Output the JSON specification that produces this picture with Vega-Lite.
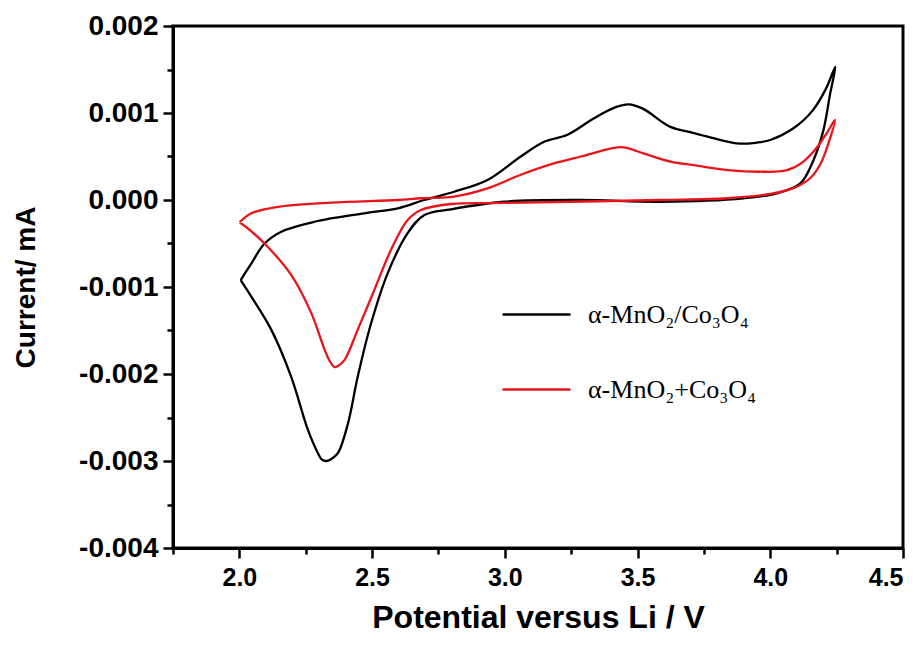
{
  "$schema": "https://vega.github.io/schema/vega-lite/v6.json",
  "width": 730,
  "height": 522,
  "autosize": {"type": "none"},
  "padding": {"left": 173, "top": 26, "right": 11, "bottom": 98},
  "background": "white",
  "config": {
    "view": {"stroke": "#000000", "strokeWidth": 3},
    "font": "Liberation Sans",
    "axis": {"grid": false, "domainColor": "#000000", "tickColor": "#000000", "labelColor": "#000000", "titleColor": "#000000", "domainWidth": 3, "tickWidth": 2.5, "labelFlush": false, "labelOverlap": false, "labelBound": false}
  },
  "data": {"values": [
    {"s": "α-MnO₂/Co₃O₄", "k": 1, "v": 2.005, "i": -0.00092},
    {"s": "α-MnO₂/Co₃O₄", "k": 2, "v": 2.045, "i": -0.00073},
    {"s": "α-MnO₂/Co₃O₄", "k": 3, "v": 2.095, "i": -0.0005},
    {"s": "α-MnO₂/Co₃O₄", "k": 4, "v": 2.158, "i": -0.000364},
    {"s": "α-MnO₂/Co₃O₄", "k": 5, "v": 2.283, "i": -0.00025},
    {"s": "α-MnO₂/Co₃O₄", "k": 6, "v": 2.471, "i": -0.000153},
    {"s": "α-MnO₂/Co₃O₄", "k": 7, "v": 2.597, "i": -0.000095},
    {"s": "α-MnO₂/Co₃O₄", "k": 8, "v": 2.697, "i": 0},
    {"s": "α-MnO₂/Co₃O₄", "k": 9, "v": 2.809, "i": 0.000095},
    {"s": "α-MnO₂/Co₃O₄", "k": 10, "v": 2.935, "i": 0.00023},
    {"s": "α-MnO₂/Co₃O₄", "k": 11, "v": 3.06, "i": 0.0005},
    {"s": "α-MnO₂/Co₃O₄", "k": 12, "v": 3.148, "i": 0.00067},
    {"s": "α-MnO₂/Co₃O₄", "k": 13, "v": 3.236, "i": 0.00075},
    {"s": "α-MnO₂/Co₃O₄", "k": 14, "v": 3.336, "i": 0.00094},
    {"s": "α-MnO₂/Co₃O₄", "k": 15, "v": 3.42, "i": 0.00107},
    {"s": "α-MnO₂/Co₃O₄", "k": 16, "v": 3.466, "i": 0.0011},
    {"s": "α-MnO₂/Co₃O₄", "k": 17, "v": 3.52, "i": 0.00105},
    {"s": "α-MnO₂/Co₃O₄", "k": 18, "v": 3.624, "i": 0.00084},
    {"s": "α-MnO₂/Co₃O₄", "k": 19, "v": 3.712, "i": 0.00077},
    {"s": "α-MnO₂/Co₃O₄", "k": 20, "v": 3.875, "i": 0.00065},
    {"s": "α-MnO₂/Co₃O₄", "k": 21, "v": 3.95, "i": 0.00066},
    {"s": "α-MnO₂/Co₃O₄", "k": 22, "v": 4.0, "i": 0.00069},
    {"s": "α-MnO₂/Co₃O₄", "k": 23, "v": 4.09, "i": 0.00083},
    {"s": "α-MnO₂/Co₃O₄", "k": 24, "v": 4.16, "i": 0.00103},
    {"s": "α-MnO₂/Co₃O₄", "k": 25, "v": 4.21, "i": 0.00128},
    {"s": "α-MnO₂/Co₃O₄", "k": 26, "v": 4.245, "i": 0.00153},
    {"s": "α-MnO₂/Co₃O₄", "k": 27, "v": 4.226, "i": 0.00123},
    {"s": "α-MnO₂/Co₃O₄", "k": 28, "v": 4.2, "i": 0.0008},
    {"s": "α-MnO₂/Co₃O₄", "k": 29, "v": 4.163, "i": 0.00046},
    {"s": "α-MnO₂/Co₃O₄", "k": 30, "v": 4.113, "i": 0.00019},
    {"s": "α-MnO₂/Co₃O₄", "k": 31, "v": 4.025, "i": 0.000077},
    {"s": "α-MnO₂/Co₃O₄", "k": 32, "v": 3.9, "i": 0.00002},
    {"s": "α-MnO₂/Co₃O₄", "k": 33, "v": 3.586, "i": -0.00002},
    {"s": "α-MnO₂/Co₃O₄", "k": 34, "v": 3.286, "i": 0},
    {"s": "α-MnO₂/Co₃O₄", "k": 35, "v": 2.996, "i": -0.00002},
    {"s": "α-MnO₂/Co₃O₄", "k": 36, "v": 2.797, "i": -0.000107},
    {"s": "α-MnO₂/Co₃O₄", "k": 37, "v": 2.697, "i": -0.000172},
    {"s": "α-MnO₂/Co₃O₄", "k": 38, "v": 2.634, "i": -0.00038},
    {"s": "α-MnO₂/Co₃O₄", "k": 39, "v": 2.559, "i": -0.00084},
    {"s": "α-MnO₂/Co₃O₄", "k": 40, "v": 2.496, "i": -0.00142},
    {"s": "α-MnO₂/Co₃O₄", "k": 41, "v": 2.446, "i": -0.00203},
    {"s": "α-MnO₂/Co₃O₄", "k": 42, "v": 2.409, "i": -0.00257},
    {"s": "α-MnO₂/Co₃O₄", "k": 43, "v": 2.371, "i": -0.00291},
    {"s": "α-MnO₂/Co₃O₄", "k": 44, "v": 2.345, "i": -0.00298},
    {"s": "α-MnO₂/Co₃O₄", "k": 45, "v": 2.327, "i": -0.003},
    {"s": "α-MnO₂/Co₃O₄", "k": 46, "v": 2.31, "i": -0.00298},
    {"s": "α-MnO₂/Co₃O₄", "k": 47, "v": 2.296, "i": -0.00291},
    {"s": "α-MnO₂/Co₃O₄", "k": 48, "v": 2.258, "i": -0.00264},
    {"s": "α-MnO₂/Co₃O₄", "k": 49, "v": 2.195, "i": -0.00203},
    {"s": "α-MnO₂/Co₃O₄", "k": 50, "v": 2.12, "i": -0.00149},
    {"s": "α-MnO₂/Co₃O₄", "k": 51, "v": 2.045, "i": -0.00111},
    {"s": "α-MnO₂/Co₃O₄", "k": 52, "v": 2.005, "i": -0.00092},
    {"s": "α-MnO₂+Co₃O₄", "k": 1, "v": 2.001, "i": -0.000256},
    {"s": "α-MnO₂+Co₃O₄", "k": 2, "v": 2.045, "i": -0.000153},
    {"s": "α-MnO₂+Co₃O₄", "k": 3, "v": 2.133, "i": -0.000084},
    {"s": "α-MnO₂+Co₃O₄", "k": 4, "v": 2.346, "i": -0.00003},
    {"s": "α-MnO₂+Co₃O₄", "k": 5, "v": 2.597, "i": 0},
    {"s": "α-MnO₂+Co₃O₄", "k": 6, "v": 2.684, "i": 0.00002},
    {"s": "α-MnO₂+Co₃O₄", "k": 7, "v": 2.809, "i": 0.00004},
    {"s": "α-MnO₂+Co₃O₄", "k": 8, "v": 2.935, "i": 0.000134},
    {"s": "α-MnO₂+Co₃O₄", "k": 9, "v": 3.06, "i": 0.00029},
    {"s": "α-MnO₂+Co₃O₄", "k": 10, "v": 3.185, "i": 0.00042},
    {"s": "α-MnO₂+Co₃O₄", "k": 11, "v": 3.286, "i": 0.0005},
    {"s": "α-MnO₂+Co₃O₄", "k": 12, "v": 3.424, "i": 0.000606},
    {"s": "α-MnO₂+Co₃O₄", "k": 13, "v": 3.46, "i": 0.0006},
    {"s": "α-MnO₂+Co₃O₄", "k": 14, "v": 3.499, "i": 0.00056},
    {"s": "α-MnO₂+Co₃O₄", "k": 15, "v": 3.624, "i": 0.00044},
    {"s": "α-MnO₂+Co₃O₄", "k": 16, "v": 3.712, "i": 0.0004},
    {"s": "α-MnO₂+Co₃O₄", "k": 17, "v": 3.85, "i": 0.00034},
    {"s": "α-MnO₂+Co₃O₄", "k": 18, "v": 3.962, "i": 0.000325},
    {"s": "α-MnO₂+Co₃O₄", "k": 19, "v": 4.06, "i": 0.00034},
    {"s": "α-MnO₂+Co₃O₄", "k": 20, "v": 4.12, "i": 0.00043},
    {"s": "α-MnO₂+Co₃O₄", "k": 21, "v": 4.175, "i": 0.0006},
    {"s": "α-MnO₂+Co₃O₄", "k": 22, "v": 4.213, "i": 0.00077},
    {"s": "α-MnO₂+Co₃O₄", "k": 23, "v": 4.244, "i": 0.00092},
    {"s": "α-MnO₂+Co₃O₄", "k": 24, "v": 4.22, "i": 0.00066},
    {"s": "α-MnO₂+Co₃O₄", "k": 25, "v": 4.19, "i": 0.00042},
    {"s": "α-MnO₂+Co₃O₄", "k": 26, "v": 4.15, "i": 0.00025},
    {"s": "α-MnO₂+Co₃O₄", "k": 27, "v": 4.09, "i": 0.00014},
    {"s": "α-MnO₂+Co₃O₄", "k": 28, "v": 4.0, "i": 0.00007},
    {"s": "α-MnO₂+Co₃O₄", "k": 29, "v": 3.837, "i": 0.00002},
    {"s": "α-MnO₂+Co₃O₄", "k": 30, "v": 3.586, "i": 0},
    {"s": "α-MnO₂+Co₃O₄", "k": 31, "v": 2.996, "i": -0.000034},
    {"s": "α-MnO₂+Co₃O₄", "k": 32, "v": 2.797, "i": -0.000046},
    {"s": "α-MnO₂+Co₃O₄", "k": 33, "v": 2.684, "i": -0.000115},
    {"s": "α-MnO₂+Co₃O₄", "k": 34, "v": 2.634, "i": -0.00023},
    {"s": "α-MnO₂+Co₃O₄", "k": 35, "v": 2.571, "i": -0.000575},
    {"s": "α-MnO₂+Co₃O₄", "k": 36, "v": 2.509, "i": -0.00103},
    {"s": "α-MnO₂+Co₃O₄", "k": 37, "v": 2.446, "i": -0.00149},
    {"s": "α-MnO₂+Co₃O₄", "k": 38, "v": 2.396, "i": -0.00184},
    {"s": "α-MnO₂+Co₃O₄", "k": 39, "v": 2.37, "i": -0.00191},
    {"s": "α-MnO₂+Co₃O₄", "k": 40, "v": 2.358, "i": -0.00192},
    {"s": "α-MnO₂+Co₃O₄", "k": 41, "v": 2.34, "i": -0.00185},
    {"s": "α-MnO₂+Co₃O₄", "k": 42, "v": 2.321, "i": -0.00172},
    {"s": "α-MnO₂+Co₃O₄", "k": 43, "v": 2.271, "i": -0.0013},
    {"s": "α-MnO₂+Co₃O₄", "k": 44, "v": 2.195, "i": -0.00086},
    {"s": "α-MnO₂+Co₃O₄", "k": 45, "v": 2.095, "i": -0.0005},
    {"s": "α-MnO₂+Co₃O₄", "k": 46, "v": 2.045, "i": -0.00036},
    {"s": "α-MnO₂+Co₃O₄", "k": 47, "v": 2.001, "i": -0.000256}
  ]},
  "resolve": {"axis": {"x": "independent", "y": "independent"}},
  "layer": [
    {
      "mark": {"type": "line", "opacity": 0},
      "encoding": {
        "x": {"field": "v", "type": "quantitative", "scale": {"domain": [1.75, 4.5], "nice": false, "zero": false},
          "axis": {"orient": "bottom", "values": [1.75, 2.25, 2.75, 3.25, 3.75, 4.25], "labels": false, "title": null, "tickSize": 6, "domain": false}},
        "y": {"field": "i", "type": "quantitative", "scale": {"domain": [-0.004, 0.002], "nice": false, "zero": false},
          "axis": {"orient": "left", "values": [-0.0035, -0.0025, -0.0015, -0.0005, 0.0005, 0.0015], "labels": false, "title": null, "tickSize": 6, "domain": false}},
        "detail": {"field": "s"},
        "order": {"field": "k", "type": "quantitative"}
      }
    },
    {
      "mark": {"type": "line", "interpolate": "catmull-rom", "strokeWidth": 2.3},
      "encoding": {
        "x": {"field": "v", "type": "quantitative", "scale": {"domain": [1.75, 4.5], "nice": false, "zero": false},
          "axis": {"orient": "bottom", "values": [2, 2.5, 3, 3.5, 4, 4.5], "format": ".1f", "tickSize": 10, "labelFontSize": 25, "labelFontWeight": "bold", "labelPadding": 7, "labelFlush": 9, "title": "Potential versus Li / V", "titleFontSize": 32, "titleFontWeight": "bold", "titlePadding": 12}},
        "y": {"field": "i", "type": "quantitative", "scale": {"domain": [-0.004, 0.002], "nice": false, "zero": false},
          "axis": {"orient": "left", "values": [-0.004, -0.003, -0.002, -0.001, 0, 0.001, 0.002], "labelExpr": "replace(format(datum.value, '.3f'), '\u2212', '-')", "tickSize": 10, "labelFontSize": 28, "labelFontWeight": "bold", "labelPadding": 5, "title": "Current/ mA", "titleFontSize": 28, "titleFontWeight": "bold", "titlePadding": 38}},
        "color": {"field": "s", "type": "nominal",
          "scale": {"domain": ["α-MnO₂/Co₃O₄", "α-MnO₂+Co₃O₄"], "range": ["#000000", "#e8151b"]},
          "legend": {"orient": "none", "legendX": 328, "legendY": 253, "title": null, "symbolType": "stroke", "symbolSize": 4624, "symbolStrokeWidth": 2.5, "labelFont": "Liberation Serif", "labelFontSize": 26, "labelColor": "#000000", "labelOffset": 16, "labelLimit": 400, "rowPadding": 26, "padding": 0}},
        "order": {"field": "k", "type": "quantitative"}
      }
    }
  ]
}
